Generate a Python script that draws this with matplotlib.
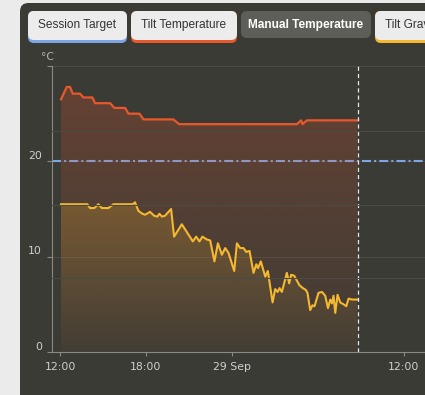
import numpy as np
import matplotlib
matplotlib.use('Agg')
import matplotlib.pyplot as plt
import matplotlib.colors as mcolors
from matplotlib.patches import FancyBboxPatch
from matplotlib.transforms import ScaledTranslation

plt.rcParams.update({'font.family': 'DejaVu Sans', 'lines.scale_dashes': False})

# ---- data (hours after 28 Sep 12:00, deg C) ----
tilt_h = [0.07, 0.47, 0.70, 0.89, 1.40, 1.63, 2.26, 2.45, 3.50, 3.80, 4.55, 4.78,
          5.55, 5.83, 7.92, 8.32, 16.55, 16.85, 16.94, 17.25, 20.77]
tilt_t = [26.5, 27.8, 27.8, 27.1, 27.1, 26.7, 26.7, 26.1, 26.1, 25.6, 25.6, 25.0,
          25.0, 24.4, 24.4, 23.9, 23.9, 24.3, 23.9, 24.3, 24.3]

manual_h = [0.07, 1.91, 2.10, 2.40, 2.68, 2.92, 3.38, 3.73, 5.08, 5.24, 5.48, 5.76,
            5.94, 6.29, 6.57, 6.80, 6.94, 7.13, 7.34, 7.76, 7.97, 8.51, 9.28, 9.51,
            9.74, 9.95, 10.26, 10.49, 10.79, 11.03, 11.31, 11.54, 11.77, 12.17, 12.36,
            12.59, 12.82, 13.01, 13.24, 13.52, 13.71, 13.83, 14.03, 14.34, 14.52, 14.85,
            15.03, 15.20, 15.34, 15.50, 15.85, 16.01, 16.15, 16.36, 16.73, 16.97, 17.18,
            17.29, 17.48, 17.64, 17.78, 18.06, 18.30, 18.53, 18.72, 18.88, 19.00, 19.11,
            19.23, 19.39, 19.58, 19.81, 20.00, 20.16, 20.40, 20.75]
manual_t = [15.5, 15.5, 15.1, 15.1, 15.5, 15.1, 15.1, 15.5, 15.5, 15.7, 14.8, 14.5,
            14.4, 14.7, 14.3, 14.2, 14.5, 14.2, 14.3, 15.0, 12.1, 13.4, 11.6, 12.1,
            11.6, 12.1, 11.8, 11.7, 9.5, 11.4, 10.2, 10.9, 10.4, 8.5, 11.4,
            10.9, 10.9, 10.5, 10.6, 8.3, 9.2, 8.8, 9.5, 7.9, 8.5, 5.2,
            6.6, 6.3, 6.7, 6.3, 8.3, 7.2, 8.1, 8.0, 7.0, 6.7, 6.5,
            6.2, 4.4, 4.9, 4.8, 6.2, 6.3, 5.9, 4.6, 5.5, 5.1, 5.9,
            4.1, 6.0, 5.2, 5.0, 4.8, 5.6, 5.5, 5.5]

session_target = 20.0
now_h = 20.85
xtick_h = [0, 6, 12, 24]
xtick_labels = ['12:00', '18:00', '29 Sep', '12:00']
ytick_t = [0, 10, 20]
buttons = ['Session Target', 'Tilt Temperature', 'Manual Temperature', 'Tilt Gravity']

W, H = 425, 395
BG = '#ebebeb'
PANEL = '#3b3b36'
ORANGE = '#e8582a'
YELLOW = '#f5b82e'
BLUE = '#7ea6e6'

fig = plt.figure(figsize=(W / 100, H / 100), dpi=100, facecolor=BG)

def fx(x): return x / W
def fy(y): return 1 - y / H

# dark panel, behind the axes
fig.add_artist(FancyBboxPatch((fx(20), fy(420)), fx(440), 417 / H,
                              boxstyle='round,pad=0,rounding_size=0.02',
                              fc=PANEL, ec='none', transform=fig.transFigure,
                              mutation_aspect=W / H, zorder=-5))

# buttons
def button(x0, x1, label, under=None, active=False, tx=None):
    y0, y1 = 11, 43
    if active:
        fig.add_artist(FancyBboxPatch((fx(x0), fy(38)), fx(x1 - x0), 27 / H,
                                      boxstyle='round,pad=0,rounding_size=0.014',
                                      fc='#5e5e59', ec='none', mutation_aspect=W / H))
        fig.text(fx((x0 + x1) / 2), fy(25), label, ha='center', va='center',
                 family='Liberation Sans', weight='bold', size=8.6, color='white')
        return
    fig.add_artist(FancyBboxPatch((fx(x0), fy(y1)), fx(x1 - x0), (y1 - y0) / H,
                                  boxstyle='round,pad=0,rounding_size=0.014',
                                  fc=under, ec='none', mutation_aspect=W / H))
    fig.add_artist(FancyBboxPatch((fx(x0), fy(y1 - 3)), fx(x1 - x0), (y1 - y0 - 3) / H,
                                  boxstyle='round,pad=0,rounding_size=0.014',
                                  fc='#ececec', ec='none', mutation_aspect=W / H))
    if tx is None:
        fig.text(fx((x0 + x1) / 2), fy(25), label, ha='center', va='center',
                 family='Liberation Sans', size=8.6, color='#333333')
    else:
        fig.text(fx(tx), fy(25), label, ha='left', va='center',
                 family='Liberation Sans', size=8.6, color='#333333')

button(28, 127, buttons[0], BLUE)
button(131, 237, buttons[1], ORANGE)
button(241, 371, buttons[2], active=True)
button(375, 470, buttons[3], YELLOW, tx=385)

# chart axes
ax = fig.add_axes([fx(52), fy(352), 1 - fx(52), (352 - 66) / H])
ax.set_facecolor('none')
ax.set_xlim(-0.56, 25.5)
ax.set_ylim(0, 30)

def grad_fill(x, y, color, a_top, a_bot, z):
    x = np.asarray(x); y = np.asarray(y)
    poly = ax.fill_between(x, y, 0, color='none', lw=0)
    path = poly.get_paths()[0]
    img = np.zeros((256, 1, 4))
    img[..., :3] = mcolors.to_rgb(color)
    img[..., 3] = np.linspace(a_top, a_bot, 256)[:, None]
    im = ax.imshow(img, extent=[x.min(), x.max(), 0, y.max()], aspect='auto',
                   origin='upper', zorder=z, interpolation='bilinear')
    im.set_clip_path(path, ax.transData)

ax.axhline(session_target, color=BLUE, lw=1.5, zorder=1,
           dashes=(6.5, 2.2, 1.5, 2.2))
grad_fill(tilt_h, tilt_t, ORANGE, 0.24, 0.03, 2)
grad_fill(manual_h, manual_t, YELLOW, 0.22, 0.02, 3)
ax.plot(tilt_h, tilt_t, color=ORANGE, lw=1.6, zorder=4, solid_joinstyle='round')
ax.plot(manual_h, manual_t, color=YELLOW, lw=1.5, zorder=5, solid_joinstyle='round')
ax.axvline(now_h, color='#e6e6e6', lw=0.9, dashes=(3, 2.2), zorder=6)
ax.set_xlim(-0.56, 25.5)
ax.set_ylim(0, 30)

ax.set_yticks([0, 10, 20, 30])
ax.set_yticklabels([str(v) for v in ytick_t] + [''])
ax.set_xticks(xtick_h)
ax.set_xticklabels(xtick_labels)
ax.tick_params(axis='y', length=3.6, width=0.8, color='#8a8a85', pad=3.6,
               labelsize=7.8, labelcolor='#cfcfcf')
ax.tick_params(axis='x', length=3, width=0.8, color='#8a8a85', pad=4,
               labelsize=7.8, labelcolor='#cfcfcf')
for lab in ax.get_yticklabels():
    lab.set_transform(lab.get_transform() + ScaledTranslation(0, 4.5 / 72, fig.dpi_scale_trans))
ax.grid(axis='y', color='#4b4b46', lw=0.8, zorder=0)
ax.set_axisbelow(True)
for s in ['top', 'right']:
    ax.spines[s].set_visible(False)
for s in ['left', 'bottom']:
    ax.spines[s].set_color('#8a8a85')
    ax.spines[s].set_linewidth(0.8)

# hidden gravity axis, only its grid lines show
ax2 = ax.twinx()
ax2.set_ylim(0, 3.89)
ax2.set_yticks([1, 2, 3])
ax2.tick_params(axis='y', length=0, labelright=False)
ax2.grid(axis='y', color='#4b4b46', lw=0.8)
for s in ax2.spines.values():
    s.set_visible(False)

fig.text(fx(48), fy(57), '°C', ha='center', va='center', size=7.8, color='#b5b5b5')

fig.savefig('out.png', dpi=100, facecolor=BG)
